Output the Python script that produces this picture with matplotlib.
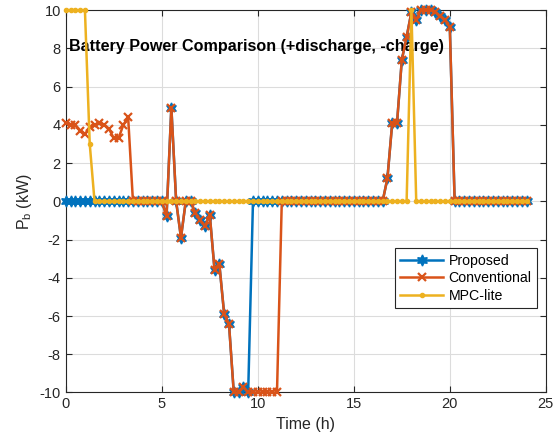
import numpy as np
import matplotlib
matplotlib.use("Agg")
import matplotlib.pyplot as plt

plt.rcParams['font.family'] = ['Liberation Sans', 'DejaVu Sans']
plt.rcParams['axes.unicode_minus'] = False

# time samples (h), 15 min step
t = np.arange(0, 24.01, 0.25)

# battery power (kW), +discharge / -charge
conventional = [
    4.1, 4.0, 4.0, 3.7, 3.5, 3.9, 4.0, 4.1, 4.0, 3.8, 3.3, 3.3, 4.0, 4.4,   # 0 - 3.25
    0, 0, 0, 0, 0, 0, 0,                                                   # 3.5 - 5.0
    -0.75, 4.9, 0, -1.9, 0, 0, -0.6, -1.0, -1.3, -0.7,                     # 5.25 - 7.5
    -3.6, -3.3, -5.9, -6.4, -10, -10, -9.7, -10,                           # 7.75 - 9.5
    -10, -10, -10, -10, -10, -10,                                          # 9.75 - 11.0
    0, 0, 0, 0, 0, 0, 0, 0, 0, 0, 0, 0, 0, 0, 0, 0, 0, 0, 0, 0, 0, 0,      # 11.25 - 16.5
    1.2, 4.1, 4.1, 7.4, 8.6, 9.9, 9.5, 10, 10, 10, 9.9, 9.7, 9.5, 9.1,     # 16.75 - 20.0
    0, 0, 0, 0, 0, 0, 0, 0, 0, 0, 0, 0, 0, 0, 0, 0,                        # 20.25 - 24.0
]

proposed = [
    0, 0, 0, 0, 0, 0, 0, 0, 0, 0, 0, 0, 0, 0,                              # 0 - 3.25
    0, 0, 0, 0, 0, 0, 0,                                                   # 3.5 - 5.0
    -0.75, 4.9, 0, -1.9, 0, 0, -0.6, -1.0, -1.3, -0.7,                     # 5.25 - 7.5
    -3.6, -3.3, -5.9, -6.4, -10, -10, -9.7, -10,                           # 7.75 - 9.5
    0, 0, 0, 0, 0, 0,                                                      # 9.75 - 11.0
    0, 0, 0, 0, 0, 0, 0, 0, 0, 0, 0, 0, 0, 0, 0, 0, 0, 0, 0, 0, 0, 0,      # 11.25 - 16.5
    1.2, 4.1, 4.1, 7.4, 8.6, 9.9, 9.5, 10, 10, 10, 9.9, 9.7, 9.5, 9.1,     # 16.75 - 20.0
    0, 0, 0, 0, 0, 0, 0, 0, 0, 0, 0, 0, 0, 0, 0, 0,                        # 20.25 - 24.0
]

mpc_lite = [
    10, 10, 10, 10, 10, 3.0, 0, 0, 0, 0, 0, 0, 0, 0,                       # 0 - 3.25
    0, 0, 0, 0, 0, 0, 0,                                                   # 3.5 - 5.0
    0, 0, 0, 0, 0, 0, 0, 0, 0, 0,                                          # 5.25 - 7.5
    0, 0, 0, 0, 0, 0, 0, 0,                                                # 7.75 - 9.5
    0, 0, 0, 0, 0, 0,                                                      # 9.75 - 11.0
    0, 0, 0, 0, 0, 0, 0, 0, 0, 0, 0, 0, 0, 0, 0, 0, 0, 0, 0, 0, 0, 0,      # 11.25 - 16.5
    0, 0, 0, 0, 0, 10, 0, 0, 0, 0, 0, 0, 0, 0,                             # 16.75 - 20.0
    0, 0, 0, 0, 0, 0, 0, 0, 0, 0, 0, 0, 0, 0, 0, 0,                        # 20.25 - 24.0
]

c_blue = '#0072BD'
c_orange = '#D95319'
c_yellow = '#EDB120'

fig = plt.figure(figsize=(5.57, 4.42), dpi=100)
ax = fig.add_axes([0.118, 0.112, 0.862, 0.865])

ax.plot(t, proposed, color=c_blue, lw=1.8, marker=(6, 1, 0), ms=8,
        label='Proposed', clip_on=False, zorder=3)
ax.plot(t, conventional, color=c_orange, lw=1.8, marker='x', ms=5.5, mew=1.6,
        label='Conventional', clip_on=False, zorder=4)
ax.plot(t, mpc_lite, color=c_yellow, lw=1.8, marker='.', ms=6,
        label='MPC-lite', clip_on=False, zorder=5)

ax.set_xlim(0, 25)
ax.set_ylim(-10, 10)
ax.set_xticks(np.arange(0, 26, 5))
ax.set_yticks(np.arange(-10, 11, 2))
ax.grid(True, color='#dcdcdc', lw=0.8)
ax.set_axisbelow(True)
ax.tick_params(direction='in', top=True, right=True, length=4,
               labelsize=10.5, colors='#262626')
for s in ax.spines.values():
    s.set_color('#262626')
    s.set_linewidth(0.8)

ax.set_xlabel('Time (h)', fontsize=11.5, color='#262626')
ax.set_ylabel('P$_\\mathregular{b}$ (kW)', fontsize=11.5, color='#262626')

ax.text(0.398, 0.906, 'Battery Power Comparison (+discharge, -charge)',
        transform=ax.transAxes, ha='center', va='center',
        fontsize=11.6, fontweight='bold')

leg = ax.legend(loc='upper right', bbox_to_anchor=(0.982, 0.378),
                borderaxespad=0, fancybox=False, framealpha=1,
                edgecolor='#262626', fontsize=10.2, handlelength=3.0,
                borderpad=0.4, labelspacing=0.25, handletextpad=0.4)
leg.get_frame().set_linewidth(0.8)

fig.savefig('out.png', dpi=100)
